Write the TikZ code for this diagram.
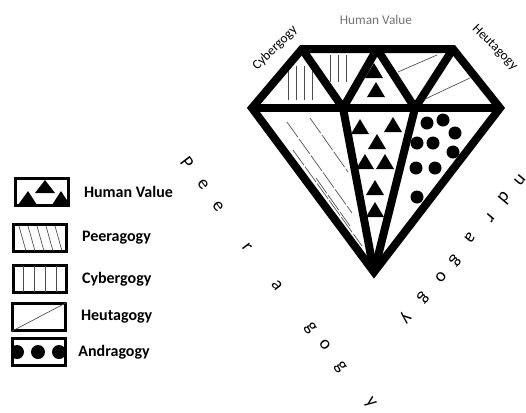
\documentclass[tikz,border=0pt]{standalone}
\usepackage{fontspec}
\setmainfont{Carlito}
\usetikzlibrary{positioning}

\begin{document}
\begin{tikzpicture}[x=0.75pt, y=-0.75pt,
		gem/.style={draw=black, line width=6pt},
		inner/.style={draw=black, line width=6pt, line join=round},
		hatch/.style={draw=black!70, line width=0.5pt},
		legbox/.style={rectangle, draw=black, line width=2pt, minimum width=40pt, minimum height=20pt, inner sep=0pt},
		legtxt/.style={font=\bfseries\fontsize{12}{14}\selectfont},
		side/.style={font=\fontsize{10}{12}\selectfont, inner sep=0pt},
		curly/.style={font=\fontsize{14}{16}\selectfont, inner sep=0pt}]
		
		\useasboundingbox (0,0) rectangle (526,412);
		
		% Cantos do diamante
		\coordinate (L) at (252,108);
		\coordinate (TL) at (302,49);
		\coordinate (TR) at (453,49);
		\coordinate (R) at (500,108);
		\coordinate (B) at (374,272);
		\coordinate (m1) at (343,108);
		\coordinate (m2) at (415,108);
		\coordinate (t1) at (377,49);
		
		% Peeragogy
		\begin{scope}
			\clip (L) -- (m1) -- (B) -- cycle;
			\draw[hatch, dash pattern=on 14pt off 1.5pt] (287,122) -- (352,213);
			\draw[hatch, dash pattern=on 14pt off 1.5pt] (310,118) -- (348,172);
			\draw[hatch, dash pattern=on 14pt off 1.5pt] (293,150) -- (362,246);
			\draw[hatch, dash pattern=on 14pt off 1.5pt] (316,178) -- (350,226);
		\end{scope}
		
		% Cybergogy
		\foreach \x in {288,296,304,312}
			\draw[hatch] (\x,66) -- (\x,100);
		\foreach \x in {330,338,346}
			\draw[hatch] (\x,55) -- (\x,82);
		
		% Heutagogy
		\draw[hatch] (398,72) -- (437,55);
		\draw[hatch] (423,100) -- (470,78);
		
		% Human Value
		\foreach \x/\y in {374/71, 376/90, 360/127, 393/125, 377/142, 365/162, 385/162, 375/188, 375/210}
			\fill (\x,\y) +(-9,7) -- +(9,7) -- +(0,-8) -- cycle;
		
		% Andragogy
		\foreach \x/\y in {427/123, 443/120, 455/133, 417/143, 433/143, 453/152, 416/168, 435/168, 417/197}
			\fill (\x,\y) circle (6.5);
		
		% Linhas do diamante
		\draw[gem] (L) -- (R);
		\draw[inner] (TL) -- (m1) -- (t1) -- (m2) -- (TR);
		\draw[gem] (m1) -- (B);
		\draw[gem] (m2) -- (B);
		\draw[gem] (L) -- (TL) -- (TR) -- (R) -- (B) -- cycle;
		
		% Rótulos
		\node[side, rotate=45] (cyb) at (275,48) {Cybergogy};
		\node[side, text=black!55] (hvtop) at (376,20) {Human Value};
		\node[side, rotate=-45, anchor=west] (heu) at (474,27) {Heutagogy};
		
		\foreach \x/\y/\c [count=\i] in {187/163/P, 203/185/e, 218/207/e, 247/247/r, 277/285/a, 310/328/g, 325/345/o, 340/367/g, 370/403/y}
			\node[curly, rotate=-53] (peer\i) at (\x,\y) {\c};
		\foreach \x/\y/\c [count=\i] in {534/162/A, 520/180/n, 505/198/d, 490/218/r, 470/238/a, 455/261/g, 441/277/o, 423/298/g, 405/318/y}
			\node[curly, rotate=230] (andr\i) at (\x,\y) {\c};
		
		% Legenda
		\node[legbox] (lhv) at (42,192) {};
		\node[legbox] (lpeer) at (40,238) {};
		\node[legbox] (lcyb) at (40,279) {};
		\node[legbox] (lheu) at (39,317) {};
		\node[legbox] (land) at (39,352) {};
		
		\fill (18,205) -- (37,205) -- (28,191) -- cycle;
		\fill (35,193) -- (55,193) -- (45,180) -- cycle;
		\fill (52,205) -- (70,205) -- (61,191) -- cycle;
		\foreach \x in {19,28,37,46,55}
			\draw[hatch] (\x,226) -- ++(7,25);
		\foreach \x in {23,34,45,56}
			\draw[hatch] (\x,266) -- (\x,292);
		\draw[hatch] (lheu.south west) -- (lheu.north east);
		\begin{scope}
			\clip (land.south west) rectangle (land.north east);
			\foreach \x in {17,38,59}
				\fill (\x,352) circle (7);
		\end{scope}
		
		\node[legtxt, right=7pt of lhv] (thv) {Human Value};
		\node[legtxt, right=7pt of lpeer] (tpeer) {Peeragogy};
		\node[legtxt, right=7pt of lcyb] (tcyb) {Cybergogy};
		\node[legtxt, right=7pt of lheu] (theu) {Heutagogy};
		\node[legtxt, right=5pt of land] (tand) {Andragogy};
		
	\end{tikzpicture}
\end{document}
